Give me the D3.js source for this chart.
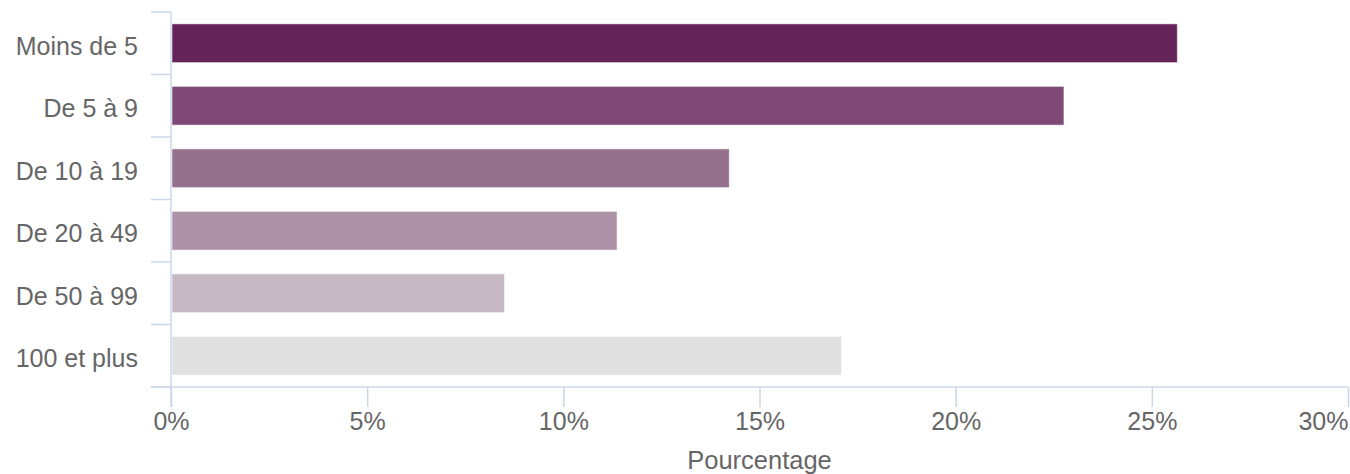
<!DOCTYPE html>
<html>
<head>
<meta charset="utf-8">
<script src="https://cdn.jsdelivr.net/npm/d3@7"></script>
<style>
  html, body { margin: 0; padding: 0; background: #ffffff; }
  svg { display: block; }
  text { font-family: Arial, "Liberation Sans", sans-serif; fill: #666666; }
</style>
</head>
<body>
<svg id="chart" width="1350" height="474"></svg>
<script>
// Share of companies by size class (number of employees)
const categories = ["Moins de 5", "De 5 à 9", "De 10 à 19", "De 20 à 49", "De 50 à 99", "100 et plus"];
const shares = [0.2565, 0.2276, 0.1423, 0.1137, 0.0850, 0.1709];
const barColors = ["#64245a", "#7e4a75", "#95718d", "#ae93a8", "#c7b9c4", "#e0e0e0"];
const xTicks = [0, 0.05, 0.10, 0.15, 0.20, 0.25, 0.30];
const xTitle = "Pourcentage";

const svg = d3.select("#chart");
const axisColor = "#ccd6eb";
const plotLeft = 171, plotRight = 1348, plotTop = 12, plotBottom = 387;
const tickLen = 20;
const fontSize = 25;

const x = d3.scaleLinear().domain([0, 0.30]).range([plotLeft, plotRight]);
const y = d3.scaleBand().domain(categories).range([plotTop, plotBottom])
  .paddingInner(0.38).paddingOuter(0.19);
const yGrid = d3.scaleBand().domain(categories).range([plotTop, plotBottom]).padding(0);

// Bars
svg.append("g").selectAll("rect")
  .data(categories)
  .join("rect")
  .attr("x", x(0) + 1)
  .attr("y", d => y(d))
  .attr("width", (d, i) => x(shares[i]) - x(0) - 1)
  .attr("height", y.bandwidth())
  .attr("fill", (d, i) => barColors[i])
  .attr("stroke", "rgba(255,255,255,0.55)")
  .attr("stroke-width", 1);

// Category axis: line, boundary ticks and labels
const yAxis = svg.append("g");
yAxis.append("line")
  .attr("x1", plotLeft).attr("x2", plotLeft)
  .attr("y1", plotTop).attr("y2", plotBottom + tickLen)
  .attr("stroke", axisColor).attr("stroke-width", 1.5);
const boundaries = categories.map(c => yGrid(c)).concat([plotBottom]);
yAxis.selectAll("line.tick")
  .data(boundaries)
  .join("line")
  .attr("class", "tick")
  .attr("x1", plotLeft - tickLen).attr("x2", plotLeft)
  .attr("y1", d => d).attr("y2", d => d)
  .attr("stroke", axisColor).attr("stroke-width", 1.5);
yAxis.selectAll("text")
  .data(categories)
  .join("text")
  .attr("x", plotLeft - 33)
  .attr("y", d => y(d) + y.bandwidth() / 2 + 11.5)
  .attr("text-anchor", "end")
  .attr("font-size", fontSize)
  .text(d => d);

// Value axis at the bottom
const xAxis = d3.axisBottom(x)
  .tickValues(xTicks)
  .tickFormat(d3.format(".0%"))
  .tickSize(tickLen)
  .tickPadding(6);
const gx = svg.append("g")
  .attr("transform", `translate(0,${plotBottom})`)
  .call(xAxis);
gx.select(".domain").remove();
gx.selectAll(".tick line").attr("stroke", axisColor).attr("stroke-width", 1.5);
gx.selectAll(".tick text")
  .attr("font-size", fontSize)
  .attr("font-family", null)
  .attr("fill", "#666666")
  .attr("dy", null)
  .attr("y", 43);
gx.append("line")
  .attr("x1", plotLeft - tickLen).attr("x2", plotRight)
  .attr("y1", 0).attr("y2", 0)
  .attr("stroke", axisColor).attr("stroke-width", 1.5);
// keep the last label inside the frame, right-aligned on its tick
gx.selectAll(".tick text").filter(d => d === 0.30).attr("text-anchor", "end").attr("x", 0);

svg.append("text")
  .attr("x", (plotLeft + plotRight) / 2)
  .attr("y", 469)
  .attr("text-anchor", "middle")
  .attr("font-size", 25.5)
  .text(xTitle);
</script>
</body>
</html>
